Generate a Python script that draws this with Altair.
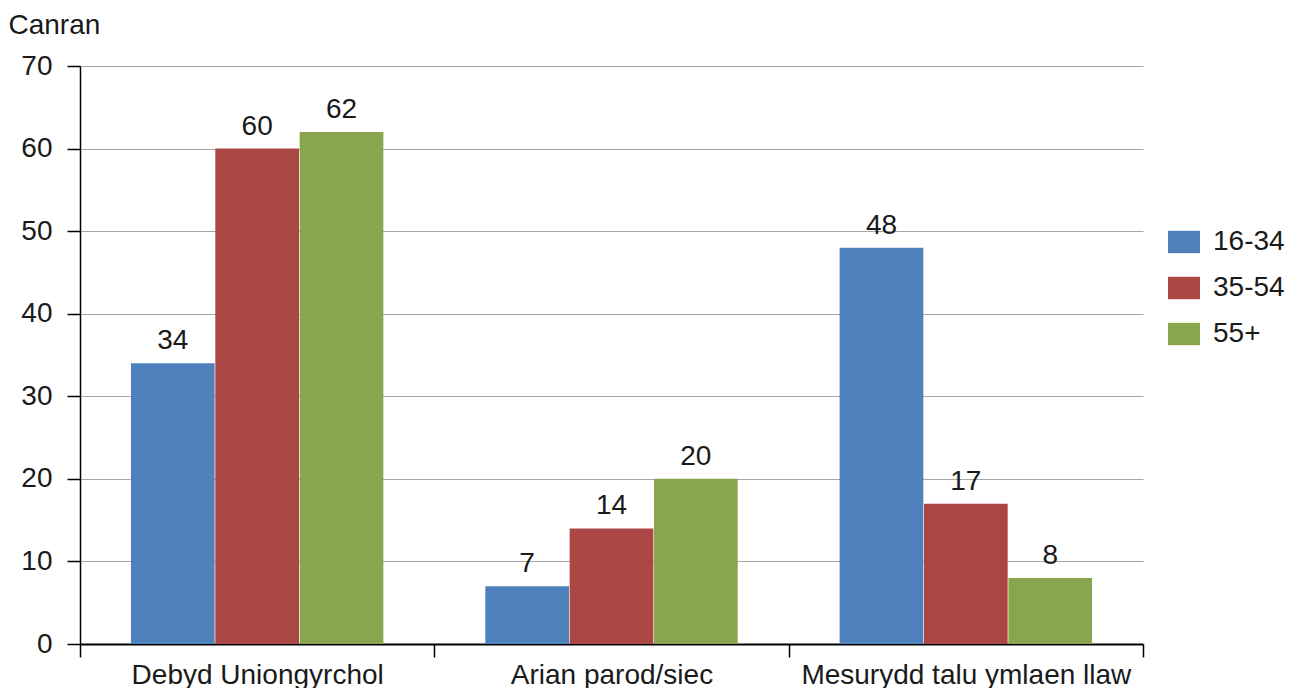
import altair as alt
import pandas as pd

categories = ["Debyd Uniongyrchol", "Arian parod/siec", "Mesurydd talu ymlaen llaw"]
series = ["16-34", "35-54", "55+"]
values_16_34 = [34, 7, 48]
values_35_54 = [60, 14, 17]
values_55 = [62, 20, 8]
colors = ["#4F81BD", "#AA4644", "#89A54E"]

rows = []
for i, c in enumerate(categories):
    for s, vals in zip(series, [values_16_34, values_35_54, values_55]):
        rows.append({"Categori": c, "Grŵp": s, "Canran": vals[i]})
df = pd.DataFrame(rows)

FONT = "Liberation Sans"
FS = 28

x_enc = alt.X(
    "Categori:N",
    sort=categories,
    scale=alt.Scale(paddingInner=0, paddingOuter=0),
    axis=alt.Axis(
        title=None, labelAngle=0, labelFontSize=FS, labelFont=FONT, labelColor="#1a1a1a",
        labelLimit=0, labelOverlap=False,
        tickBand="extent", tickSize=13, tickColor="#000000", tickWidth=1.5,
        domainColor="#000000", domainWidth=2, labelPadding=4, grid=False,
    ),
)
xoff = alt.XOffset("Grŵp:N", sort=series, scale=alt.Scale(paddingOuter=0.6, paddingInner=0))
y_enc = alt.Y(
    "Canran:Q",
    scale=alt.Scale(domain=[0, 70]),
    axis=alt.Axis(
        values=[0, 10, 20, 30, 40, 50, 60, 70],
        title="Canran", titleAngle=0, titleAlign="left", titleBaseline="alphabetic",
        titleX=-72, titleY=-33, titleFontSize=FS, titleFont=FONT, titleFontWeight="normal",
        titleColor="#1a1a1a",
        labelFontSize=FS, labelFont=FONT, labelColor="#1a1a1a", labelPadding=15,
        tickSize=13, tickColor="#000000", tickWidth=1.5,
        domainColor="#000000", domainWidth=1.5,
        grid=True, gridColor="#a6a6a6", gridWidth=1,
    ),
)

color_enc = alt.Color(
    "Grŵp:N",
    sort=series,
    scale=alt.Scale(domain=series, range=colors),
    legend=alt.Legend(
        title=None, orient="none", legendX=1088, legendY=160,
        symbolType="M-1,-0.7H1V0.7H-1Z", symbolSize=1024, symbolStrokeWidth=0,
        labelFontSize=FS, labelFont=FONT, labelColor="#1a1a1a", labelOffset=13,
        rowPadding=16, padding=0,
    ),
)

bars = alt.Chart(df).mark_bar(size=83.7).encode(
    x=x_enc, xOffset=xoff, y=y_enc, color=color_enc
)
labels = alt.Chart(df).mark_text(
    baseline="bottom", dy=-8, fontSize=FS, font=FONT, color="#1a1a1a"
).encode(
    x=alt.X("Categori:N", sort=categories),
    xOffset=alt.XOffset("Grŵp:N", sort=series),
    y=alt.Y("Canran:Q"),
    text=alt.Text("Canran:Q"),
)

chart = (
    alt.layer(bars, labels)
    .properties(
        width=1063,
        height=578,
        autosize=alt.AutoSizeParams(type="none"),
        padding={"left": 72, "top": 58, "right": 148, "bottom": 44},
    )
    .configure_view(stroke=None)
)

chart.save("out.html", embed_options={"renderer": "svg", "actions": False})
